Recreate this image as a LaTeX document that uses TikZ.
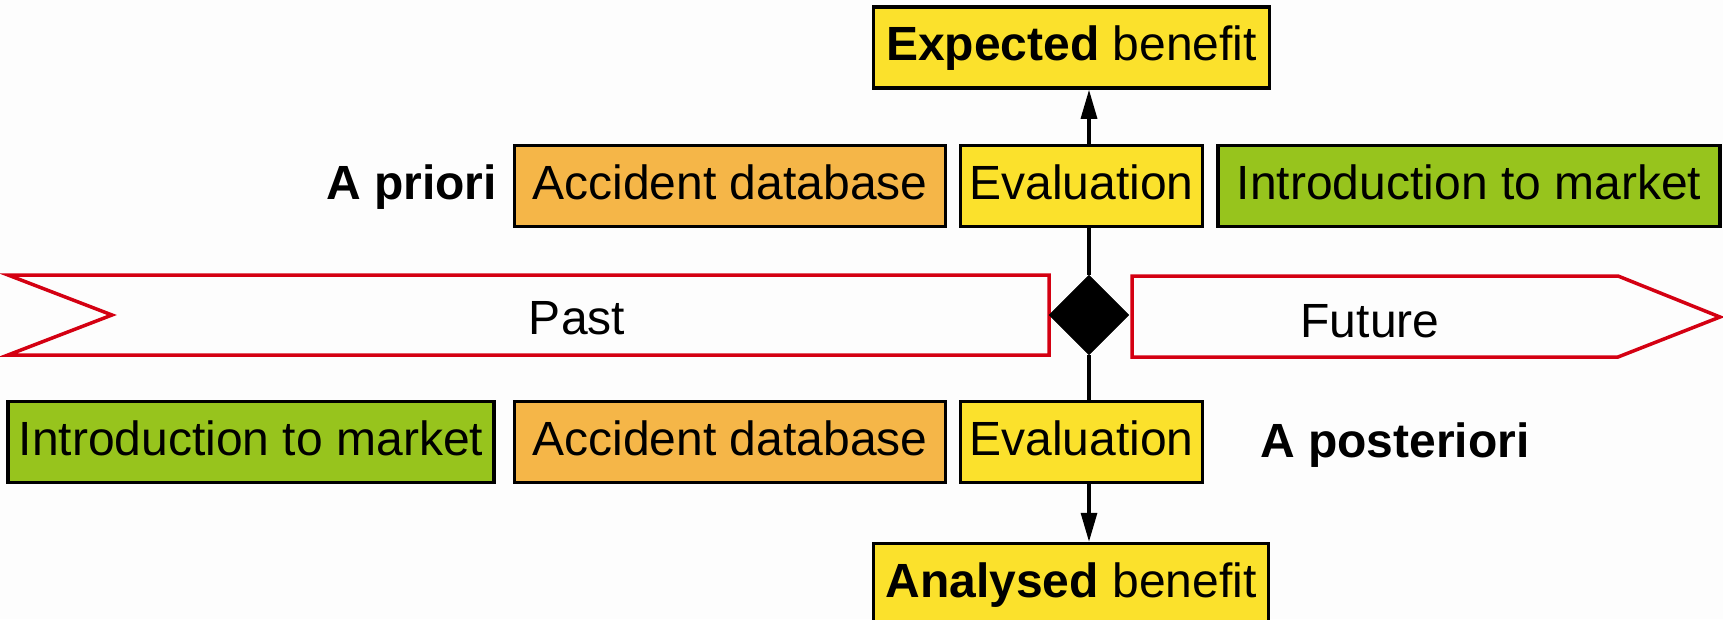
\documentclass[tikz,border=0pt]{standalone}
\usepackage{fontspec}
\setmainfont{Liberation Sans}
\usetikzlibrary{shapes.geometric,arrows.meta}
\definecolor{boxyellow}{RGB}{251,225,44}
\definecolor{boxorange}{RGB}{245,182,72}
\definecolor{boxgreen}{RGB}{151,196,29}
\definecolor{timered}{RGB}{212,0,18}
\definecolor{bgcol}{RGB}{253,253,253}
\begin{document}
\begin{tikzpicture}[x=1pt,y=-1pt,
  box/.style={draw=black,line width=3.5pt,inner sep=0pt,text height=35pt,text depth=9pt,
    minimum height=81pt,font=\fontsize{48}{58}\selectfont},
  lbl/.style={inner sep=0pt,font=\fontsize{48}{58}\selectfont},
  conn/.style={line width=3.2pt},
  tip/.style={-{Triangle[length=29pt,width=16pt]}},
  timeline/.style={draw=timered,line width=3.5pt,fill=bgcol,line join=miter}]
\useasboundingbox (0,0) rectangle (1723,619);
\clip (0,0) rectangle (1723,619);
\fill[bgcol] (0,0) rectangle (1723,619);

% time arrows
\draw[timeline] (8,275) -- (1049,275) -- (1049,355) -- (8,355) -- (112,315) -- cycle;
\draw[timeline] (1132,276) -- (1618,276) -- (1720,317) -- (1618,357) -- (1132,357) -- cycle;
\node[lbl,anchor=base] (past) at (577,334) {Past};
\node[lbl,anchor=base] (future) at (1370,337) {Future};

% diamond
\node[diamond,fill=black,draw=black,inner sep=0pt,minimum width=80pt,minimum height=80pt] (dia) at (1089,315) {};

% top row
\node[box,fill=boxyellow,minimum width=396pt] (exp) at (1071.5,47.5) {\textbf{Expected} benefit};
\node[box,fill=boxorange,minimum width=431pt] (acct) at (730,186) {Accident database};
\node[box,fill=boxyellow,minimum width=242pt] (evt) at (1081.5,186) {Evaluation};
\node[box,fill=boxgreen,minimum width=502pt] (intt) at (1469,186) {Introduction to market};
\node[lbl,anchor=base west,font=\fontsize{48}{58}\selectfont\bfseries] (prio) at (326,199) {A priori};

% bottom row
\node[box,fill=boxgreen,minimum width=486pt] (intb) at (251,442) {Introduction to market};
\node[box,fill=boxorange,minimum width=431pt] (accb) at (730,442) {Accident database};
\node[box,fill=boxyellow,minimum width=242pt] (evb) at (1081.5,442) {Evaluation};
\node[lbl,anchor=base west,font=\fontsize{48}{58}\selectfont\bfseries] (post) at (1260,457) {A posteriori};
\node[box,fill=boxyellow,minimum width=395pt] (ana) at (1071,584) {\textbf{Analysed} benefit};

% connectors
\draw[conn,tip] (evt.north -| dia.center) -- (exp.south -| dia.center);
\draw[conn] (evt.south -| dia.center) -- (dia.north);
\draw[conn] (dia.south) -- (evb.north -| dia.center);
\draw[conn,tip] (evb.south -| dia.center) -- (ana.north -| dia.center);
\end{tikzpicture}
\end{document}
